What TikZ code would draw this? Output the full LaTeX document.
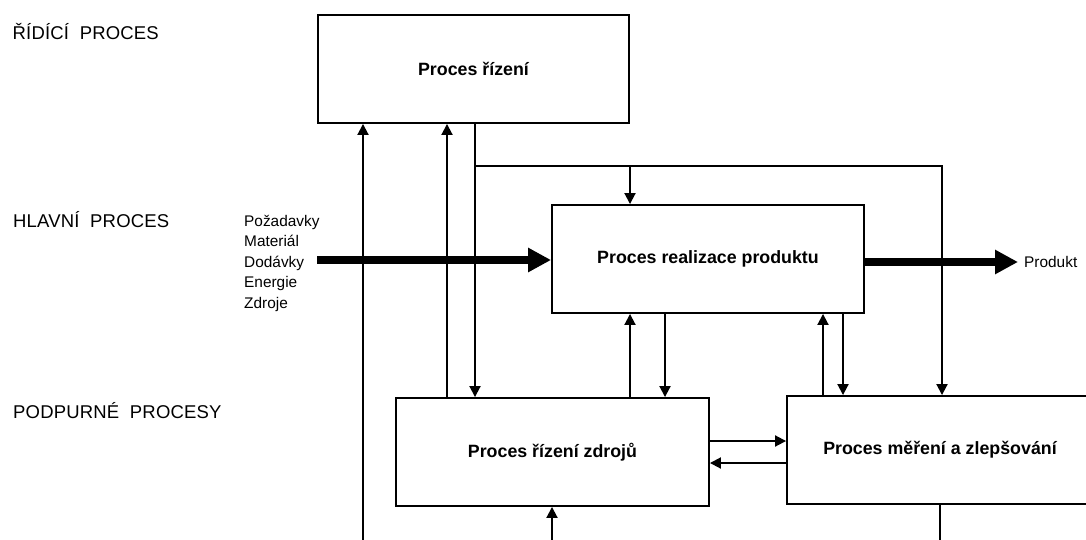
\documentclass[tikz,border=0pt]{standalone}
\usepackage{fontspec}
\setmainfont{Liberation Sans}
\usetikzlibrary{arrows.meta,positioning}

\tikzset{
  proces/.style={draw, line width=1.9pt, inner sep=0pt, minimum height=108pt,
    font=\fontsize{17.8}{21}\selectfont\bfseries},
  uroven/.style={anchor=base west, inner sep=0pt,
    font=\fontsize{18.5}{22}\selectfont\addfontfeature{LetterSpace=1}},
  popis/.style={inner sep=0pt, font=\fontsize{15.4}{20.5}\selectfont},
  sipka/.style={line width=1.9pt, -{Triangle[length=11pt,width=11pt]}},
  cara/.style={line width=1.9pt},
  tlusta/.style={line width=8pt, -{Triangle[length=23pt,width=23pt]}},
}

\begin{document}
\begin{tikzpicture}[x=1pt,y=-1pt]
\clip (0,0) rectangle (1086,540);

% urovne procesu
\node[uroven] (ridici) at (12.5,40) {ŘÍDÍCÍ\ \ PROCES};
\node[uroven] (hlavni) at (13,227) {HLAVNÍ\ \ PROCES};
\node[uroven] (podpurne) at (13,418) {PODPURNÉ\ \ PROCESY};

% procesy
\node[proces, minimum width=311pt] (rizeni) at (473.5,69) {Proces řízení};
\node[proces, minimum width=312pt] (realizace) at (708,259) {Proces realizace produktu};
\node[proces, minimum width=313pt] (zdroje) at (552.5,452) {Proces řízení zdrojů};
\node[proces, minimum width=306pt] (mereni) at (940,450) {Proces měření a zlepšování};

\coordinate (zdola1) at (363,540);
\coordinate (zdola2) at (552,540);
\coordinate (dolu) at (940,540);
\coordinate (uzel) at (475,166);
\coordinate (roh) at (942,166);
\coordinate (vstup) at (317,260);
\coordinate (vystup) at (1018,262);

\node[popis, align=left, anchor=west] (vstupy) at (244,263)
  {Požadavky\\Materiál\\Dodávky\\Energie\\Zdroje};
\node[popis, right=6pt of vystup] (produkt) {Produkt};

% hlavni tok
\draw[tlusta] (vstup) -- (vstup -| realizace.west);
\draw[tlusta] (realizace.east |- vystup) -- (vystup);

% rizeni
\draw[sipka] (zdola1) -- (zdola1 |- rizeni.south);
\draw[sipka] (zdroje.north -| 447,0) -- (rizeni.south -| 447,0);
\draw[sipka] (rizeni.south -| uzel) -- (zdroje.north -| uzel);
\draw[sipka] (uzel) -- (roh) -- (roh |- mereni.north);
\draw[sipka] (uzel -| 630,0) -- (realizace.north -| 630,0);

% podpurne procesy
\draw[sipka] (zdroje.north -| 630,0) -- (realizace.south -| 630,0);
\draw[sipka] (realizace.south -| 665,0) -- (zdroje.north -| 665,0);
\draw[sipka] (mereni.north -| 823,0) -- (realizace.south -| 823,0);
\draw[sipka] (realizace.south -| 843,0) -- (mereni.north -| 843,0);
\draw[sipka] (zdroje.east |- 0,441) -- (mereni.west |- 0,441);
\draw[sipka] (mereni.west |- 0,463) -- (zdroje.east |- 0,463);
\draw[sipka] (zdola2) -- (zdola2 |- zdroje.south);
\draw[cara] (mereni.south -| dolu) -- (dolu);
\end{tikzpicture}
\end{document}
